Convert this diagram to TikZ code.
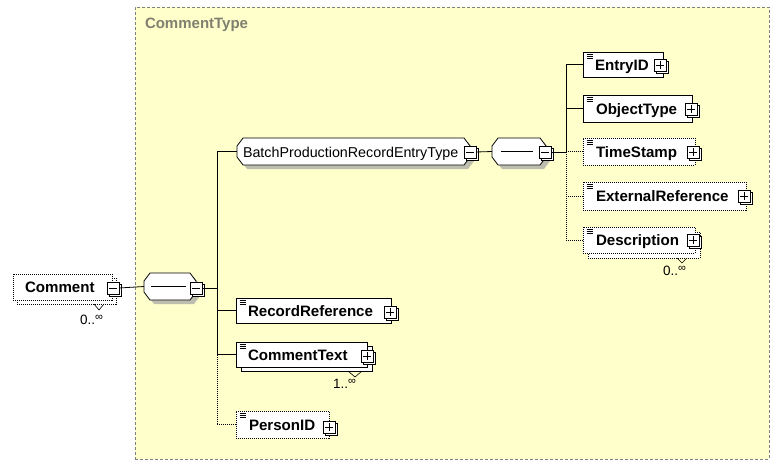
\documentclass[tikz,border=0pt]{standalone}
\usepackage{fontspec}
\setmainfont{Liberation Sans}
\usetikzlibrary{calc}
\definecolor{ctbg}{RGB}{255,255,204}
\definecolor{ctlbl}{RGB}{128,128,112}
\definecolor{ctframe}{RGB}{128,128,128}
\definecolor{shadegray}{RGB}{190,190,175}
\tikzset{
  every node/.style={inner sep=0pt, outer sep=0pt},
  conn/.style={draw=black, line width=0.8pt},
  optconn/.style={conn, dash pattern=on 1pt off 1pt},
  elembox/.style={rectangle, draw=black, fill=white, line width=0.8pt, anchor=north west},
  optbox/.style={elembox, dash pattern=on 1pt off 1pt},
  octobase/.style={rectangle, draw=none, anchor=north west},
  octodraw/.style={draw=black, fill=white, line width=0.8pt},
  octoshade/.style={fill=shadegray, draw=none},
  ctl/.style={rectangle, draw=black, fill=white, line width=0.7pt, minimum size=12pt},
  ctlminus/.style={ctl, path picture={\draw[line width=0.7pt]
     ([xshift=2pt]path picture bounding box.west) -- ([xshift=-2pt]path picture bounding box.east);}},
  ctlplus/.style={ctl, path picture={\draw[line width=0.7pt]
     ([xshift=2pt]path picture bounding box.west) -- ([xshift=-2pt]path picture bounding box.east)
     ([yshift=-2pt]path picture bounding box.north) -- ([yshift=2pt]path picture bounding box.south);}},
  ename/.style={font=\fontsize{15.1}{18}\selectfont\bfseries, anchor=base west},
  rname/.style={font=\fontsize{14.3}{17}\selectfont, anchor=base west},
  card/.style={font=\fontsize{13.5}{15}\selectfont, anchor=base west},
  icon/.style={draw=black, line width=0.6pt},
  frame/.style={rectangle, draw=ctframe, fill=ctbg, line width=0.8pt, dash pattern=on 3pt off 2pt, anchor=north west},
  seqline/.style={draw=black, line width=0.8pt}
}
\newcommand\ctlbox[4]{%
  \node[ctl] at (#2+2,#3+2) {};
  \node[#4] (#1) at (#2,#3) {};}
\newcommand\eicon[1]{%
  \foreach \d in {2.5,4.5,6.5}{\draw[icon] ([shift={(3.5,\d)}]#1.north west) -- ++(6,0);}}
% octagon path; \dx, \dy = offset (canvas) of the copy
\newcommand\octopath[2]{(\x1+6pt+#1,\y1+#2) -- (\x2-6pt+#1,\y1+#2) -- (\x2+#1,\y1-8pt+#2) -- (\x2+#1,\y2+8pt+#2)
   -- (\x2-6pt+#1,\y2+#2) -- (\x1+6pt+#1,\y2+#2) -- (\x1+#1,\y2+8pt+#2) -- (\x1+#1,\y1-8pt+#2) -- cycle}
\newcommand\octo[1]{%
  \path[octoshade] let \p1=(#1.north west), \p2=(#1.south east) in \octopath{4pt}{-4pt};
  \path[octodraw] let \p1=(#1.north west), \p2=(#1.south east) in \octopath{0pt}{0pt};}
\begin{document}
\begin{tikzpicture}[x=1pt,y=-1pt]
\useasboundingbox[fill=white] (0,0) rectangle (782,466);
% complex type frame
\node[frame, minimum width=634pt, minimum height=452pt] (ctype) at (135,7) {};
\node[font=\fontsize{15}{17}\selectfont\bfseries, text=ctlbl, anchor=base west] (ctypelbl) at (145,28) {CommentType};

% Comment (root)
\node[optbox, minimum width=99pt, minimum height=26pt] (cmtsh) at (17,278) {};
\node[optbox, minimum width=99pt, minimum height=26pt] (cmt) at (13,274) {};
\node[ename] (cmtt) at (25,292.5) {Comment};
\ctlbox{cmtm}{113}{288}{ctlminus}
\draw[line width=0.6pt] (94,304) -- (99,310) -- (104,304);
\node[card] (cmtcard) at (80,324) {0..\raisebox{4pt}{\fontsize{11}{12}\selectfont ∞}};

% sequence 1
\node[octobase, minimum width=52pt, minimum height=27pt] (seq1) at (144,273) {};
\octo{seq1}
\draw[seqline] ([xshift=7pt]seq1.west) -- ([xshift=-10pt]seq1.east);
\ctlbox{seq1m}{196}{288}{ctlminus}
\draw[conn] (cmtm.east) -- (seq1.west);
\coordinate (v1) at (217,288);
\draw[conn] (seq1m.east) -- (v1);

% BatchProductionRecordEntryType group
\node[octobase, minimum width=233pt, minimum height=27pt] (bpret) at (237,138) {};
\octo{bpret}
\node[rname] (bprett) at (243,157) {BatchProductionRecordEntryType};
\ctlbox{bpretm}{470}{152}{ctlminus}

% sequence 2
\node[octobase, minimum width=54pt, minimum height=27pt] (seq2) at (492,138) {};
\octo{seq2}
\draw[seqline] ([xshift=9pt]seq2.west) -- ([xshift=-13pt]seq2.east);
\ctlbox{seq2m}{545}{152}{ctlminus}
\draw[conn] (bpretm.east) -- (seq2.west);
\coordinate (v2) at (566,152);
\draw[conn] (seq2m.east) -- (v2);

% children of sequence 2
\node[elembox, minimum width=80pt, minimum height=25pt] (entryid) at (583,52) {};
\eicon{entryid}
\node[ename] (entryidt) at (595,70) {EntryID};
\ctlbox{entryidp}{660}{65}{ctlplus}

\node[elembox, minimum width=109pt, minimum height=27pt] (objtype) at (583,95) {};
\eicon{objtype}
\node[ename] (objtypet) at (596,114) {ObjectType};
\ctlbox{objtypep}{691}{109}{ctlplus}

\node[optbox, minimum width=112pt, minimum height=27pt] (tstamp) at (583,138) {};
\eicon{tstamp}
\node[ename] (tstampt) at (596,157) {TimeStamp};
\ctlbox{tstampp}{693}{152}{ctlplus}

\node[optbox, minimum width=163pt, minimum height=28pt] (extref) at (583,182) {};
\eicon{extref}
\node[ename] (extreft) at (596,201.5) {ExternalReference};
\ctlbox{extrefp}{744}{196}{ctlplus}

\node[optbox, minimum width=112pt, minimum height=26pt] (descsh) at (588,232) {};
\node[optbox, minimum width=112pt, minimum height=26pt] (desc) at (583,227) {};
\eicon{desc}
\node[ename] (desct) at (596,245.5) {Description};
\ctlbox{descp}{693}{240}{ctlplus}
\draw[line width=0.6pt] (677,258) -- (682,263) -- (687,258);
\node[card] (desccard) at (663,275) {0..\raisebox{4pt}{\fontsize{11}{12}\selectfont ∞}};

\draw[conn] (v2) |- (entryid.west);
\draw[conn] (v2) |- (objtype.west);
\draw[optconn] (v2) |- (tstamp.west);
\draw[optconn] (v2) |- (extref.west);
\draw[optconn] (v2) |- (desc.west);

% children of sequence 1
\node[elembox, minimum width=155pt, minimum height=25pt] (recref) at (236,298) {};
\eicon{recref}
\node[ename] (recreft) at (248,316) {RecordReference};
\ctlbox{recrefp}{390}{312}{ctlplus}

\node[elembox, minimum width=131pt, minimum height=25pt] (ctextsh) at (241,346) {};
\node[elembox, minimum width=131pt, minimum height=25pt] (ctext) at (236,342) {};
\eicon{ctext}
\node[ename] (ctextt) at (248,360) {CommentText};
\ctlbox{ctextp}{367}{356}{ctlplus}
\draw[line width=0.6pt] (348,371) -- (355,377) -- (362,371);
\node[card] (ctextcard) at (333,388) {1..\raisebox{4pt}{\fontsize{11}{12}\selectfont ∞}};

\node[optbox, minimum width=93pt, minimum height=27pt] (pid) at (236,411) {};
\eicon{pid}
\node[ename] (pidt) at (249,430) {PersonID};
\ctlbox{pidp}{329}{427}{ctlplus}

\draw[conn] (v1) |- (bpret.west);
\draw[conn] (v1) |- (recref.west);
\draw[conn] (v1) |- (ctext.west);
\draw[optconn] (ctext.west -| v1) |- (pid.west);
\end{tikzpicture}
\end{document}
